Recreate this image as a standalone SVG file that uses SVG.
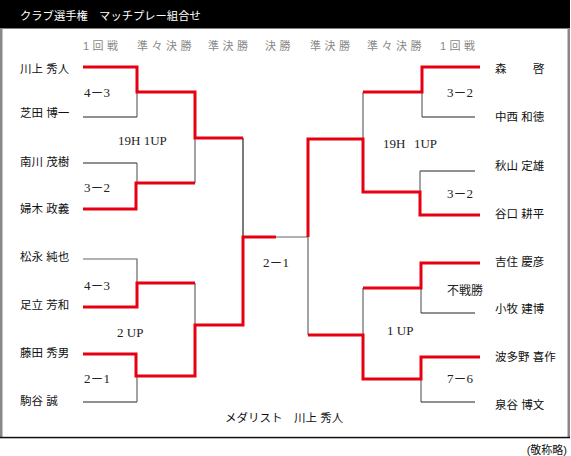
<svg xmlns="http://www.w3.org/2000/svg" width="571" height="456" viewBox="0 0 571 456">
<style>
.name{font-family:"Liberation Sans","Noto Sans CJK JP",sans-serif;font-size:11.5px;fill:#111}
.round{font-family:"Liberation Sans","Noto Sans CJK JP",sans-serif;font-size:11px;fill:#888;letter-spacing:3.5px}
.score{font-family:"Liberation Serif","Noto Sans CJK JP",serif;font-size:13px;fill:#222}
.title{font-family:"Liberation Sans","Noto Sans CJK JP",sans-serif;font-size:11.3px;fill:#fff}
.red{fill:none;stroke:#e60012;stroke-width:3;stroke-linejoin:miter}
.thin{fill:none;stroke:#666;stroke-width:1.2}
.dark{fill:none;stroke:#222;stroke-width:1.2}
</style>
<rect x="0" y="0" width="571" height="456" fill="#fff"/>
<g id="frame">
<rect x="0" y="0" width="570" height="28.5" fill="#000"/>
<rect x="0" y="28" width="2.5" height="410" fill="#888"/>
<rect x="567.5" y="28" width="2.5" height="410" fill="#888"/>
<rect x="0" y="436.8" width="570" height="1.5" fill="#111"/>
<text class="title" x="20" y="20">クラブ選手権　マッチプレー組合せ</text>
</g>
<g id="rounds">
<text class="round" x="83" y="49.5">1回戦</text>
<text class="round" x="137" y="49.5">準々決勝</text>
<text class="round" x="208" y="49.5">準決勝</text>
<text class="round" x="265" y="49.5">決勝</text>
<text class="round" x="310" y="49.5">準決勝</text>
<text class="round" x="367" y="49.5">準々決勝</text>
<text class="round" x="440" y="49.5">1回戦</text>
</g>
<g id="connectors">
<polyline class="dark" points="83,117 137,117"/>
<polyline class="thin" points="137,117 137,92"/>
<polyline class="dark" points="83,163 137,163"/>
<polyline class="thin" points="137,163 137,183"/>
<polyline class="thin" points="195,138 195,183"/>
<polyline class="thin" points="83,259 137,259 137,283"/>
<polyline class="thin" points="195,283 195,325"/>
<polyline class="dark" points="83,402 137,402"/>
<polyline class="thin" points="137,402 137,376"/>
<polyline class="dark" points="243,138 243,237"/>
<polyline class="thin" points="276,237 308,237 308,335"/>
<polyline class="thin" points="363,92 363,139"/>
<polyline class="thin" points="422,92 422,117"/>
<polyline class="dark" points="422,117 475,117"/>
<polyline class="dark" points="475,171 420,171"/>
<polyline class="thin" points="420,171 420,192"/>
<polyline class="thin" points="421,288 421,313"/>
<polyline class="dark" points="421,313 475,313"/>
<polyline class="thin" points="363,288 363,335"/>
<polyline class="thin" points="421,379 421,402"/>
<polyline class="dark" points="421,402 475,402"/>
<polyline class="red" points="83,67 137,67 137,92 195,92 195,138 243,138"/>
<polyline class="red" points="83,209 136,209 136,183 195,183"/>
<polyline class="red" points="83,307 137,307 137,283 195,283"/>
<polyline class="red" points="83,354 136,354 136,376 195,376 195,325 243,325 243,237 276,237"/>
<polyline class="red" points="480,67 422,67 422,92 363,92"/>
<polyline class="red" points="480,215 420,215 420,192 363,192 363,139 308,139 308,237"/>
<polyline class="red" points="480,263 421,263 421,288 363,288"/>
<polyline class="red" points="480,357 421,357 421,379 363,379 363,335 308,335"/>
</g>
<g id="scores">
<text class="score" x="84" y="96.5">4－3</text>
<text class="score" x="118" y="145">19H 1UP</text>
<text class="score" x="84" y="191.5">3－2</text>
<text class="score" x="84" y="290">4－3</text>
<text class="score" x="117" y="337">2 UP</text>
<text class="score" x="84" y="383">2－1</text>
<text class="score" x="263" y="267">2－1</text>
<text class="score" x="447" y="97">3－2</text>
<text class="score" x="383" y="148">19H<tspan dx="8.5">1UP</tspan></text>
<text class="score" x="447" y="197.5">3－2</text>
<text class="score" x="447" y="295" style="font-size:12px">不戦勝</text>
<text class="score" x="387" y="335">1 UP</text>
<text class="score" x="447" y="383">7－6</text>
</g>
<g id="p-kawakami"><text class="name" x="20" y="72.5">川上 秀人</text></g>
<g id="p-shibata"><text class="name" x="20" y="117">芝田 博一</text></g>
<g id="p-minamikawa"><text class="name" x="20" y="165.5">南川 茂樹</text></g>
<g id="p-fuki"><text class="name" x="20" y="212.5">婦木 政義</text></g>
<g id="p-matsunaga"><text class="name" x="20" y="260.5">松永 純也</text></g>
<g id="p-adachi"><text class="name" x="20" y="308.8">足立 芳和</text></g>
<g id="p-fujita"><text class="name" x="20" y="357">藤田 秀男</text></g>
<g id="p-komatani"><text class="name" x="20" y="405">駒谷 誠</text></g>
<g id="p-mori"><text class="name" x="495" y="73">森<tspan x="533">啓</tspan></text></g>
<g id="p-nakanishi"><text class="name" x="495" y="121">中西 和徳</text></g>
<g id="p-akiyama"><text class="name" x="495" y="169.5">秋山 定雄</text></g>
<g id="p-taniguchi"><text class="name" x="495" y="217.5">谷口 耕平</text></g>
<g id="p-yoshizumi"><text class="name" x="495" y="265.5">吉住 慶彦</text></g>
<g id="p-komaki"><text class="name" x="495" y="312.5">小牧 建博</text></g>
<g id="p-hatano"><text class="name" x="495" y="361">波多野 喜作</text></g>
<g id="p-izumitani"><text class="name" x="495" y="408.5">泉谷 博文</text></g>
<g id="footer">
<text class="name" x="225" y="421.5">メダリスト　川上 秀人</text>
<text class="name" x="567" y="454" text-anchor="end" style="font-size:11px">(敬称略)</text>
</g>
</svg>
